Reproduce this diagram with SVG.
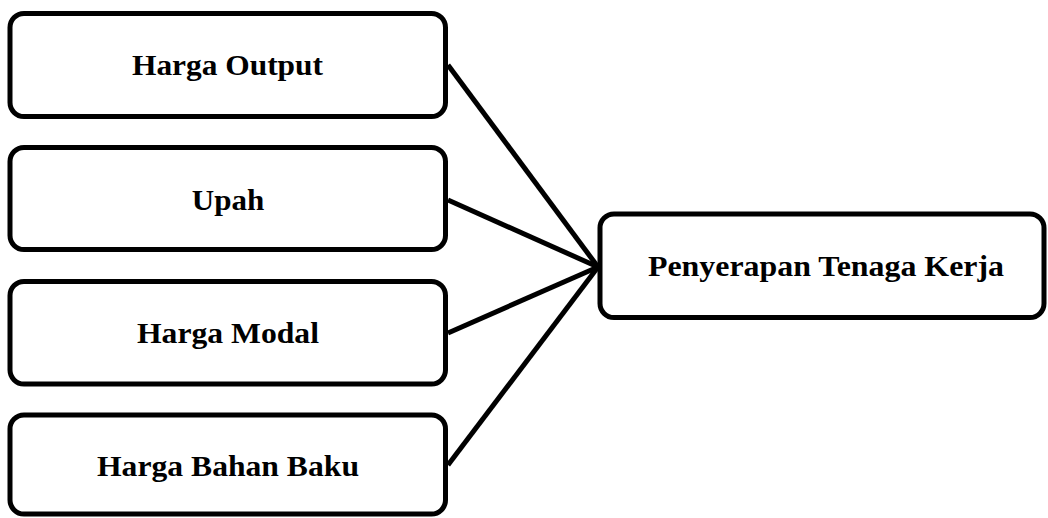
<svg xmlns="http://www.w3.org/2000/svg" width="1048" height="518" viewBox="0 0 1048 518">
<style>
.box{fill:#fff;stroke:#000;stroke-width:5}
.lbl{font-family:"Liberation Serif","Times New Roman",serif;font-weight:bold;font-size:30px;text-anchor:middle;fill:#000}
.con{stroke:#000;stroke-width:5;fill:none}
</style>
<rect width="1048" height="518" fill="#fff"/>
<g id="connectors">
<line class="con" x1="448" y1="65" x2="598" y2="267"/>
<line class="con" x1="448" y1="200" x2="598" y2="267"/>
<line class="con" x1="448" y1="333" x2="598" y2="267"/>
<line class="con" x1="448" y1="465" x2="598" y2="267"/>
</g>
<g id="harga-output">
<rect class="box" x="10" y="13.5" width="435.5" height="103" rx="14"/>
<text class="lbl" x="227.5" y="75" textLength="191" lengthAdjust="spacingAndGlyphs">Harga Output</text>
</g>
<g id="upah">
<rect class="box" x="10" y="147.5" width="435.5" height="102" rx="14"/>
<text class="lbl" x="228" y="209.5" textLength="72.5" lengthAdjust="spacingAndGlyphs">Upah</text>
</g>
<g id="harga-modal">
<rect class="box" x="10" y="281.5" width="435.5" height="102.5" rx="14"/>
<text class="lbl" x="228" y="342.5" textLength="182" lengthAdjust="spacingAndGlyphs">Harga Modal</text>
</g>
<g id="harga-bahan-baku">
<rect class="box" x="10" y="415" width="435.5" height="99" rx="14"/>
<text class="lbl" x="228" y="476" textLength="262" lengthAdjust="spacingAndGlyphs">Harga Bahan Baku</text>
</g>
<g id="penyerapan">
<rect class="box" x="600" y="214" width="444" height="103.5" rx="14"/>
<text class="lbl" x="826" y="276" textLength="356" lengthAdjust="spacingAndGlyphs">Penyerapan Tenaga Kerja</text>
</g>
</svg>
